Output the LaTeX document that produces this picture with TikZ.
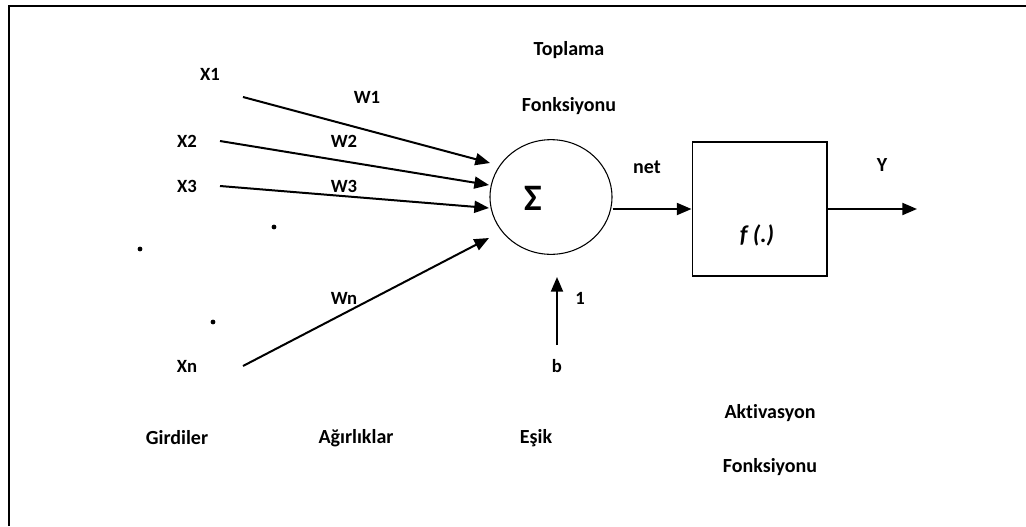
\documentclass[tikz,border=0pt]{standalone}
\usepackage{fontspec}
\setmainfont{Carlito}[RawFeature={-liga}]
\usetikzlibrary{arrows.meta,shapes.geometric}
\begin{document}
\begin{tikzpicture}[x=0.75pt,y=-0.75pt,
  lbl/.style={font=\bfseries\fontsize{15}{18}\selectfont, inner sep=0pt},
  xlbl/.style={font=\bfseries\fontsize{14}{17}\selectfont, inner sep=0pt},
  arr/.style={line width=1.5pt, -{Triangle[length=11pt,width=9pt]}},
  dotmark/.style={fill=black}]
\path[use as bounding box] (0,0) rectangle (1026,526);
% frame
\draw[line width=1.5pt] (9,526) -- (9,6) -- (1026,6);
% summation node
\node[ellipse, draw, line width=0.8pt, minimum width=91.5pt, minimum height=86pt, inner sep=0pt] (sum) at (551,197) {};
\node[font=\bfseries\fontsize{28}{32}\selectfont, inner sep=0pt] (sigma) at (533,198) {Σ};
% activation box
\node[draw, line width=1pt, minimum width=101pt, minimum height=100.5pt, inner sep=0pt] (fbox) at (759.5,209) {};
\node[font=\bfseries\itshape\fontsize{18}{21}\selectfont, inner sep=0pt] (fdot) at (757,235) {f (.)};
% labels
\node[lbl] (toplama) at (569,50) {Toplama};
\node[lbl] (fonk1) at (569,106) {Fonksiyonu};
\node[xlbl] (x1) at (210,74) {X1};
\node[xlbl] (x2) at (187,141) {X2};
\node[xlbl] (x3) at (187,186) {X3};
\node[xlbl] (xn) at (187,366) {Xn};
\node[xlbl] (w1) at (367,97) {W1};
\node[xlbl] (w2) at (344,141) {W2};
\node[xlbl] (w3) at (344,186) {W3};
\node[xlbl] (wn) at (344,298) {Wn};
\node[lbl] (net) at (647,167) {net};
\node[lbl] (y) at (882,165) {Y};
\node[xlbl] (one) at (580,298) {1};
\node[xlbl] (b) at (557,366) {b};
\node[lbl] (girdiler) at (177,438) {Girdiler};
\node[lbl] (agirliklar) at (356,438) {Ağırlıklar};
\node[lbl] (esik) at (536,438) {Eşik};
\node[lbl] (aktiv) at (770,413) {Aktivasyon};
\node[lbl] (fonk2) at (770,467) {Fonksiyonu};
% connector end points
\coordinate (s1) at (243,97);
\coordinate (t1) at (490,163);
\coordinate (s2) at (220,141);
\coordinate (t2) at (489,185);
\coordinate (s3) at (220,186);
\coordinate (t3) at (489,208);
\coordinate (sn) at (243,366);
\coordinate (tn) at (489,238);
\coordinate (bt) at (557,345);
\coordinate (bh) at (557,277);
\coordinate (yout) at (917,209);
% connectors
\draw[arr] (s1) -- (t1);
\draw[arr] (s2) -- (t2);
\draw[arr] (s3) -- (t3);
\draw[arr] (sn) -- (tn);
\draw[arr] (bt) -- (bh);
\draw[arr] (sum.east |- fbox.west) -- (fbox.west);
\draw[arr] (fbox.east) -- (yout);
% dots
\fill[dotmark] (140,249) circle[radius=1.8pt];
\fill[dotmark] (274,227) circle[radius=1.8pt];
\fill[dotmark] (213,322) circle[radius=1.8pt];
\end{tikzpicture}
\end{document}
